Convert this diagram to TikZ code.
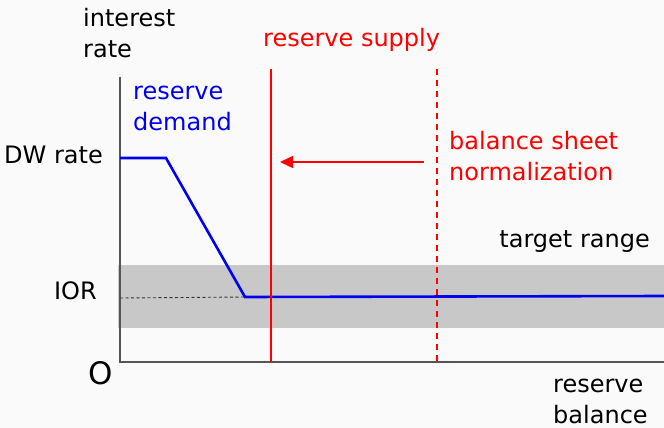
\documentclass[tikz,border=0pt]{standalone}
\usepackage{fontspec}
\setmainfont{DejaVu Sans}
\usetikzlibrary{arrows.meta}
\definecolor{bgcol}{HTML}{FAFAFA}
\definecolor{bandcol}{HTML}{C8C8C8}
\definecolor{axiscol}{HTML}{555555}
\definecolor{demandcol}{HTML}{0000EE}
\definecolor{supplycol}{HTML}{FF0000}
\tikzset{
  lbl/.style={inner sep=0pt, font=\fontsize{24}{31}\selectfont, align=left},
  axisline/.style={draw=axiscol, line width=1.8pt},
  demandline/.style={draw=demandcol, line width=2.6pt, line join=miter},
  supplyline/.style={draw=supplycol, line width=2.8pt},
  shiftarrow/.style={draw=supplycol, line width=1.4pt, -{Triangle[length=13pt,width=12pt]}},
}
\begin{document}
\begin{tikzpicture}[x=1pt,y=-1pt]
  % canvas
  \fill[bgcol] (0,0) rectangle (664,428);
  \useasboundingbox (0,0) rectangle (664,428);

  % target range band
  \fill[bandcol] (118,265) rectangle (664,328);

  % axes
  \coordinate (ytop) at (120,77);
  \coordinate (orig) at (120,362);
  \coordinate (xend) at (664,362);
  \draw[axisline] (ytop) -- (orig) -- (xend);

  % reserve demand curve
  \coordinate (dw) at (120,158);
  \coordinate (kink1) at (166,158);
  \coordinate (kink2) at (245,297);
  \coordinate (flat) at (664,296);
  \draw[black!80, line width=0.9pt, dash pattern=on 3pt off 2.5pt] (120,298) -- (kink2);
  \draw[demandline] (dw) -- (kink1) -- (kink2) -- (flat);

  % reserve supply, current and normalized
  \coordinate (s1top) at (271,69);
  \coordinate (s1bot) at (271,362);
  \coordinate (s2top) at (437,69);
  \coordinate (s2bot) at (437,362);
  \draw[supplyline] (s1top) -- (s1bot);
  \draw[supplyline, dash pattern=on 6pt off 5pt] (s2top) -- (s2bot);
  \coordinate (arrfrom) at (424,162);
  \coordinate (arrto) at (280,162);
  \draw[shiftarrow] (arrfrom) -- (arrto);

  % labels (base anchor of a two-line label sits on its last line)
  \node[lbl, anchor=base west] (ylab) at (83,58) {interest\\rate};
  \node[lbl, anchor=base west, text=supplycol] (supplylab) at (263,47) {reserve supply};
  \node[lbl, anchor=base west, text=demandcol] (demandlab) at (133,130) {reserve\\demand};
  \node[lbl, anchor=base east] (dwlab) at (103,163) {DW rate};
  \node[lbl, anchor=base west, text=supplycol] (bsnlab) at (449,180) {balance sheet\\normalization};
  \node[lbl, anchor=base east] (rangelab) at (650,247) {target range};
  \node[lbl, anchor=base east] (iorlab) at (97,299) {IOR};
  \node[inner sep=0pt, anchor=base east, font=\fontsize{31}{36}\selectfont] (olab) at (113,384) {O};
  \node[lbl, anchor=base west] (xlab) at (553,423) {reserve\\balance};
\end{tikzpicture}
\end{document}
